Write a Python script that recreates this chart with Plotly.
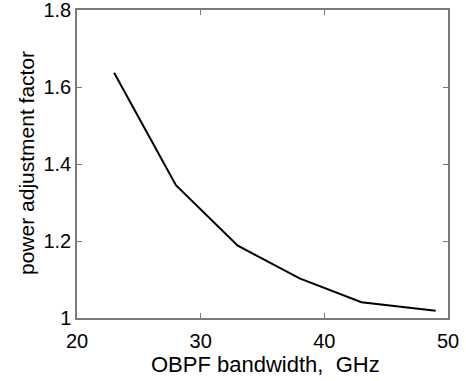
import plotly.graph_objects as go

bandwidth_ghz = [23, 28, 33, 38, 43, 49]
power_factor = [1.637, 1.345, 1.188, 1.103, 1.041, 1.019]
x_ticks = [20, 30, 40, 50]
y_ticks = [1, 1.2, 1.4, 1.6, 1.8]
y_tick_labels = ["1", "1.2", "1.4", "1.6", "1.8"]
x_title = "OBPF bandwidth,  GHz"
y_title = "power adjustment factor"

W, H = 466, 381
L, R, T, B = 77, 18, 10, 63

tick_font = dict(family="Liberation Sans, Arial, sans-serif", size=20, color="black")
title_font = dict(family="Liberation Sans, Arial, sans-serif", size=21, color="black")
xtitle_font = dict(family="Liberation Sans, Arial, sans-serif", size=22, color="black")

fig = go.Figure(go.Scatter(x=bandwidth_ghz, y=power_factor, mode="lines",
                           line=dict(color="black", width=2), hoverinfo="skip"))
axis_common = dict(showgrid=False, zeroline=False, showline=True, mirror="ticks",
                   linecolor="#7a7a7a", linewidth=1.5, ticks="inside", ticklen=5,
                   tickcolor="#7a7a7a", tickfont=tick_font, automargin=False,
                   ticklabeloverflow="allow")
fig.update_layout(
    width=W, height=H, margin=dict(l=L, r=R, t=T, b=B),
    plot_bgcolor="white", paper_bgcolor="white", showlegend=False,
    xaxis=dict(range=[20, 50], tickvals=x_ticks, ticklabelstandoff=4, **axis_common),
    yaxis=dict(range=[1, 1.8], tickvals=y_ticks, ticktext=y_tick_labels, **axis_common),
)
pw = W - L - R
ph = H - T - B
fig.add_annotation(text=x_title, font=xtitle_font, showarrow=False,
                   xref="paper", yref="paper",
                   x=(265 - L) / pw, y=-(364 - T - ph) / ph,
                   xanchor="center", yanchor="middle")
fig.add_annotation(text=y_title, font=title_font, showarrow=False, textangle=-90,
                   xref="paper", yref="paper",
                   x=(26 - L) / pw, y=1 - (163 - T) / ph,
                   xanchor="center", yanchor="middle")
fig.write_html("out.html", config={"displayModeBar": False},
               post_script="document.body.style.margin='0';")
